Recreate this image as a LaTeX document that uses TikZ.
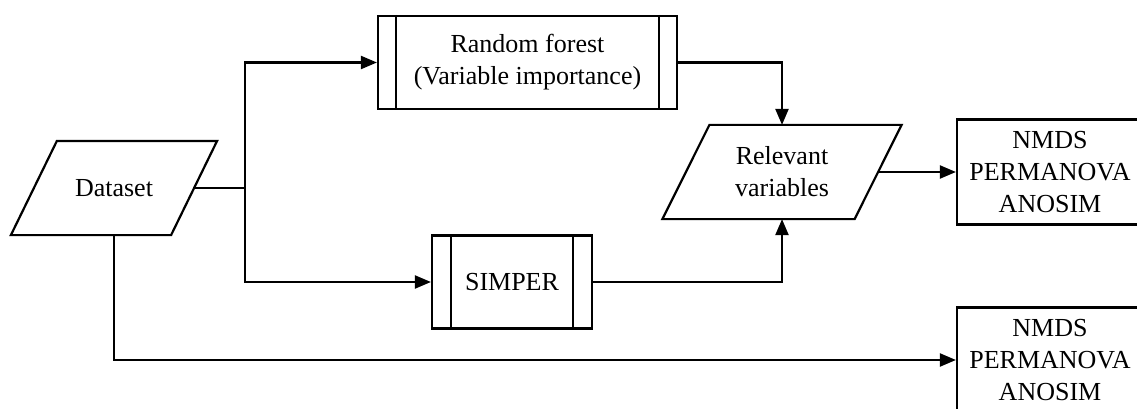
\documentclass[tikz,border=0pt]{standalone}
\usepackage{fontspec}
\setmainfont{Liberation Serif}
\usetikzlibrary{arrows.meta}
\begin{document}
\begin{tikzpicture}[x=1pt, y=-1pt, line width=2.2pt,
    every node/.style={font=\fontsize{26}{32}\selectfont, align=center},
    box/.style={draw, rectangle, minimum width=186pt, minimum height=105pt},
    proc/.style={draw, rectangle, minimum height=93pt},
    io/.style={rectangle, minimum height=92pt},
    hv/.style={to path={|- (\tikztotarget)}},
    vh/.style={to path={-| (\tikztotarget)}},
    >={Triangle[length=16pt,width=13pt]}]
    \clip (0,0) rectangle (1137,409);
    \node[io, minimum width=158pt] (Data) at (114,188) {Dataset};
    \node[proc, minimum width=299pt] (Forest) at (527.5,62.5) {Random forest\\(Variable importance)};
    \node[proc, minimum width=160pt] (Simper) at (512,282) {SIMPER};
    \node[io, minimum width=190pt] (Relev) at (782,172) {Relevant\\variables};
    \node[box] (Out1) at (1050,172) {NMDS\\PERMANOVA\\ANOSIM};
    \node[box] (Out2) at (1050,360) {NMDS\\PERMANOVA\\ANOSIM};
    \coordinate (Split) at (245,188);
    % slanted sides of the data nodes
    \draw ([xshift=-23pt]Data.south west) -- ([xshift=-23pt]Data.south east)
      -- ([xshift=23pt]Data.north east) -- ([xshift=23pt]Data.north west) -- cycle;
    \draw ([xshift=-23.5pt]Relev.south west) -- ([xshift=-23.5pt]Relev.south east)
      -- ([xshift=23.5pt]Relev.north east) -- ([xshift=23.5pt]Relev.north west) -- cycle;
    % double side bars of the process boxes
    \draw ([xshift=19pt]Forest.north west) -- ([xshift=19pt]Forest.south west);
    \draw ([xshift=-19pt]Forest.north east) -- ([xshift=-19pt]Forest.south east);
    \draw ([xshift=20pt]Simper.north west) -- ([xshift=20pt]Simper.south west);
    \draw ([xshift=-20pt]Simper.north east) -- ([xshift=-20pt]Simper.south east);
    \path (Data) edge (Split);
    \path (Split) edge [->, hv] (Forest);
    \path (Split) edge [->, hv] (Simper);
    \path (Forest) edge [->, vh] (Relev);
    \path (Simper) edge [->, vh] (Relev);
    \path (Relev) edge [->] (Out1);
    \path (Data) edge [->, hv] (Out2);
  \end{tikzpicture}
\end{document}
